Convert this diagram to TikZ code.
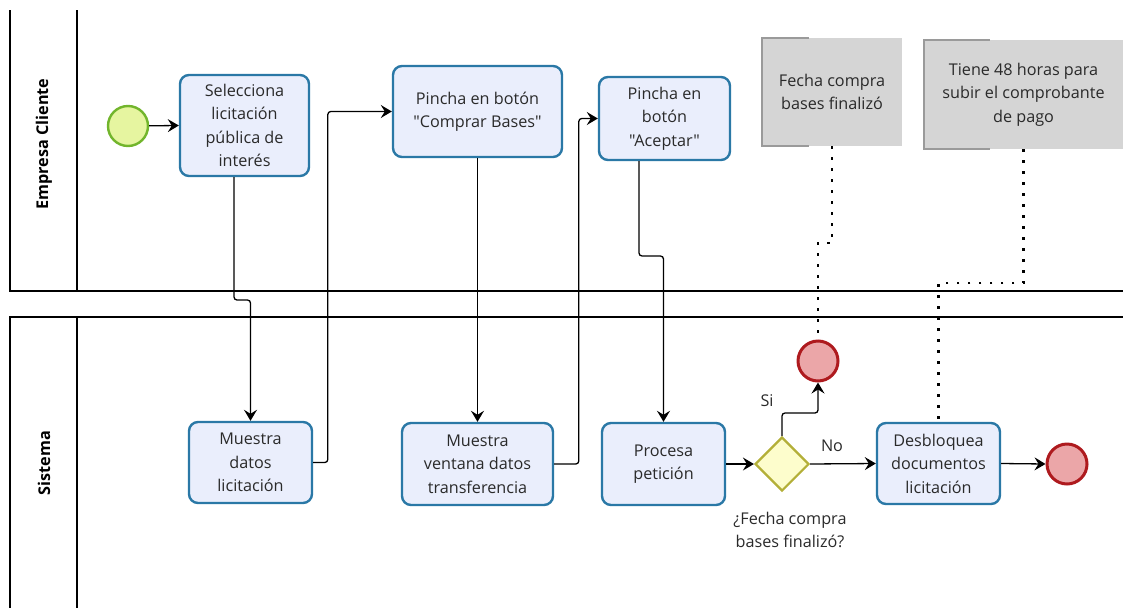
\documentclass[tikz,border=0pt]{standalone}
\usepackage{fontspec}
\setmainfont{Open Sans}[Ligatures=TeXOff]
\usetikzlibrary{arrows.meta,shapes.geometric}
\definecolor{taskfill}{HTML}{EAEEFC}
\definecolor{taskline}{HTML}{2A78A6}
\definecolor{startfill}{HTML}{E6F5A0}
\definecolor{startline}{HTML}{72B52C}
\definecolor{endfill}{HTML}{EBA6A8}
\definecolor{endline}{HTML}{AE1A1E}
\definecolor{gwfill}{HTML}{FDFDCC}
\definecolor{gwline}{HTML}{B3AF38}
\definecolor{annfill}{HTML}{D5D5D5}
\definecolor{annline}{HTML}{9A9A9A}
\definecolor{txt}{HTML}{2A2A2A}
\tikzset{
  txtfont/.style={font=\fontsize{16.2}{23.5}\selectfont, text=txt},
  task/.style={rectangle, rounded corners=9pt, draw=taskline, fill=taskfill, line width=2.4pt, align=center, inner sep=0pt, txtfont},
  startev/.style={circle, draw=startline, fill=startfill, line width=2.4pt, minimum size=40pt, inner sep=0pt},
  endev/.style={circle, draw=endline, fill=endfill, line width=3pt, minimum size=40pt, inner sep=0pt},
  gateway/.style={diamond, draw=gwline, fill=gwfill, line width=2.2pt, minimum width=54pt, minimum height=54pt, inner sep=0pt},
  annot/.style={rectangle, fill=annfill, align=center, inner sep=0pt, txtfont},
  annbracket/.style={draw=annline, line width=1.6pt},
  flow/.style={draw=black, line width=1.3pt, rounded corners=3pt, -{Stealth[length=11pt,width=13pt,inset=4pt]}},
  assoc/.style={draw=black, line width=2.6pt, dash pattern=on 2.6pt off 8.4pt},
  pool/.style={draw=black, line width=1.4pt},
  lanelabel/.style={rotate=90, font=\fontsize{16.2}{18}\selectfont\bfseries, text=black},
  lbl/.style={txtfont, inner sep=0pt}
}
\begin{document}
\begin{tikzpicture}[x=1pt,y=-1pt]
\useasboundingbox (0,0) rectangle (1123,608);
% pools / lanes
\draw[pool] (10,10) -- (10,291) -- (1123,291);
\draw[pool] (77,10) -- (77,291);
\draw[pool] (1123,317) -- (10,317) -- (10,608);
\draw[pool] (77,317) -- (77,608);
\node[lanelabel] (lane1) at (44,144) {Empresa Cliente};
\node[lanelabel] (lane2) at (44,463) {Sistema};

% level coordinates
\coordinate (y300) at (0,300);
\coordinate (y256) at (0,256);
\coordinate (y413) at (0,413);
\coordinate (y243) at (0,243);
\coordinate (y283) at (0,283);

% nodes
\node[startev] (start) at (128,126) {};
\node[task, minimum width=129pt, minimum height=101pt] (sel) at (244.5,125.5) {Selecciona\\licitación\\pública de\\interés};
\node[task, minimum width=169pt, minimum height=91pt] (comp) at (477.5,111.5) {Pincha en botón\\"Comprar Bases"};
\node[task, minimum width=131pt, minimum height=83pt] (acep) at (664.5,118.5) {Pincha en\\botón\\"Aceptar"};
\node[task, minimum width=123pt, minimum height=81pt] (mdat) at (250.5,462.5) {Muestra\\datos\\licitación};
\node[task, minimum width=151pt, minimum height=82pt] (mven) at (477.5,464) {Muestra\\ventana datos\\transferencia};
\node[task, minimum width=123pt, minimum height=82pt] (proc) at (663.5,464) {Procesa\\petición};
\node[gateway] (gw) at (782,464) {};
\node[lbl, align=center] (gwlbl) at (790,530) {¿Fecha compra\\bases finalizó?};
\node[task, minimum width=123pt, minimum height=81pt] (desb) at (938.5,463.5) {Desbloquea\\documentos\\licitación};
\node[endev] (end1) at (818,361) {};
\node[endev] (end2) at (1067,464) {};
\node[annot, minimum width=140pt, minimum height=108pt] (ann1) at (832,92) {Fecha compra\\bases finalizó};
\node[annot, minimum width=199pt, minimum height=109pt] (ann2) at (1023.5,94.5) {Tiene 48 horas para\\subir el comprobante\\de pago};
\draw[annbracket] ([xshift=47pt]ann1.north west) -- (ann1.north west) -- (ann1.south west) -- ([xshift=47pt]ann1.south west);
\draw[annbracket] ([xshift=66pt]ann2.north west) -- (ann2.north west) -- (ann2.south west) -- ([xshift=66pt]ann2.south west);

% sequence flows
\draw[flow] (start) -- (sel.west);
\draw[flow] ([xshift=-10.5pt]sel.south) -- ([xshift=-10.5pt]sel.south |- y300) -| (mdat.north);
\draw[flow] (mdat.east) -| ([xshift=-64pt]comp.west) -- (comp.west);
\draw[flow] (comp.south) -- (mven.north);
\draw[flow] (mven.east) -| ([xshift=-19pt]acep.west) -- (acep.west);
\draw[flow] ([xshift=-25.5pt]acep.south) -- ([xshift=-25.5pt]acep.south |- y256) -| (proc.north);
\draw[flow] (proc.east) -- (gw.west);
\draw[flow] (gw.north) -- (gw.north |- y413) -| (end1.south);
\draw[flow] (gw.east) -- (desb.west);
\draw[flow] (desb.east) -- (end2.west);
\node[lbl] (si) at (767,401) {Si};
\node[lbl] (no) at (832,446) {No};

% associations
\draw[assoc] (ann1.south) -- (ann1.south |- y243) -| (end1.north);
\draw[assoc] (ann2.south) -- (ann2.south |- y283) -| (desb.north);
\end{tikzpicture}
\end{document}
